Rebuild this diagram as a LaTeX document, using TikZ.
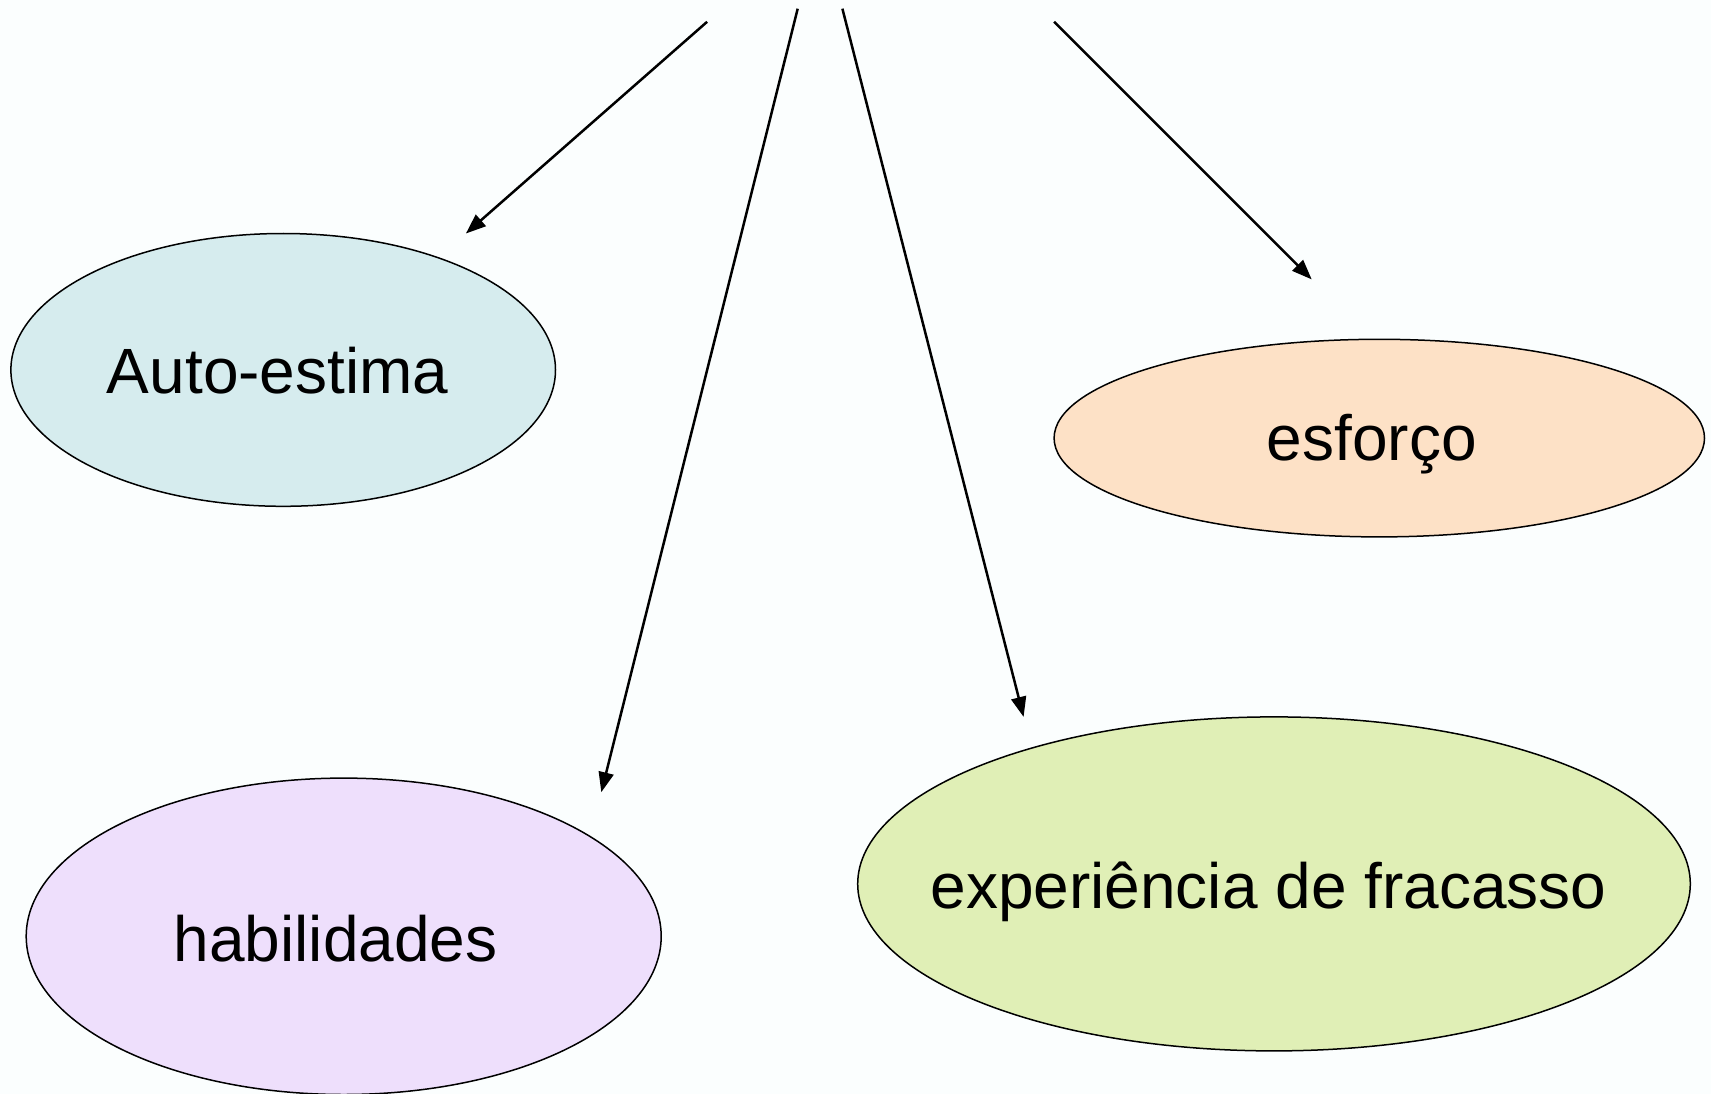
\documentclass[tikz,border=0pt]{standalone}
\usepackage{fontspec}
\setmainfont{Liberation Sans}
\usetikzlibrary{shapes.geometric,arrows.meta}
\definecolor{bg}{RGB}{251,254,254}
\definecolor{cblue}{RGB}{214,236,238}
\definecolor{cpeach}{RGB}{253,225,198}
\definecolor{clav}{RGB}{238,223,252}
\definecolor{cgreen}{RGB}{224,239,182}
\tikzset{
  oval/.style={ellipse, draw=black, line width=1.5pt, inner sep=0pt},
  txt/.style={inner sep=0pt, font=\fontsize{64}{76}\selectfont},
  link/.style={line width=2.5pt, -{Triangle[length=20pt,width=15pt]}}
}
\begin{document}
\begin{tikzpicture}[x=1pt,y=-1pt]
\fill[bg] (0,0) rectangle (1711,1094);
\useasboundingbox (0,0) rectangle (1711,1094);
\node[oval, fill=cblue, minimum width=544.6pt, minimum height=272.8pt] (auto) at (283.2,369.9) {};
\node[oval, fill=cpeach, minimum width=650.4pt, minimum height=197.6pt] (esf) at (1379.3,438.1) {};
\node[oval, fill=clav, minimum width=635pt, minimum height=316.4pt] (hab) at (343.7,936.3) {};
\node[oval, fill=cgreen, minimum width=832.6pt, minimum height=334pt] (exp) at (1274,883.9) {};
\node[txt] (autot) at ([xshift=-5.5pt,yshift=-1pt]auto.center) {Auto-estima};
\node[txt] (esft) at ([xshift=-7.6pt,yshift=-6pt]esf.center) {esforço};
\node[txt] (habt) at ([xshift=-8pt,yshift=-2pt]hab.center) {habilidades};
\node[txt] (expt) at ([xshift=-5.5pt,yshift=-8pt]exp.center) {experiência de fracasso};
\coordinate (s1) at (707.1,21.8);
\coordinate (e1) at (465.9,233.5);
\coordinate (s2) at (797.7,8.7);
\coordinate (e2) at (601.3,792.2);
\coordinate (s3) at (842.4,8.7);
\coordinate (e3) at (1023.6,716.9);
\coordinate (s4) at (1054.1,21.8);
\coordinate (e4) at (1311.7,279.4);
\draw[link] (s1) -- (e1);
\draw[link] (s2) -- (e2);
\draw[link] (s3) -- (e3);
\draw[link] (s4) -- (e4);
\end{tikzpicture}
\end{document}
